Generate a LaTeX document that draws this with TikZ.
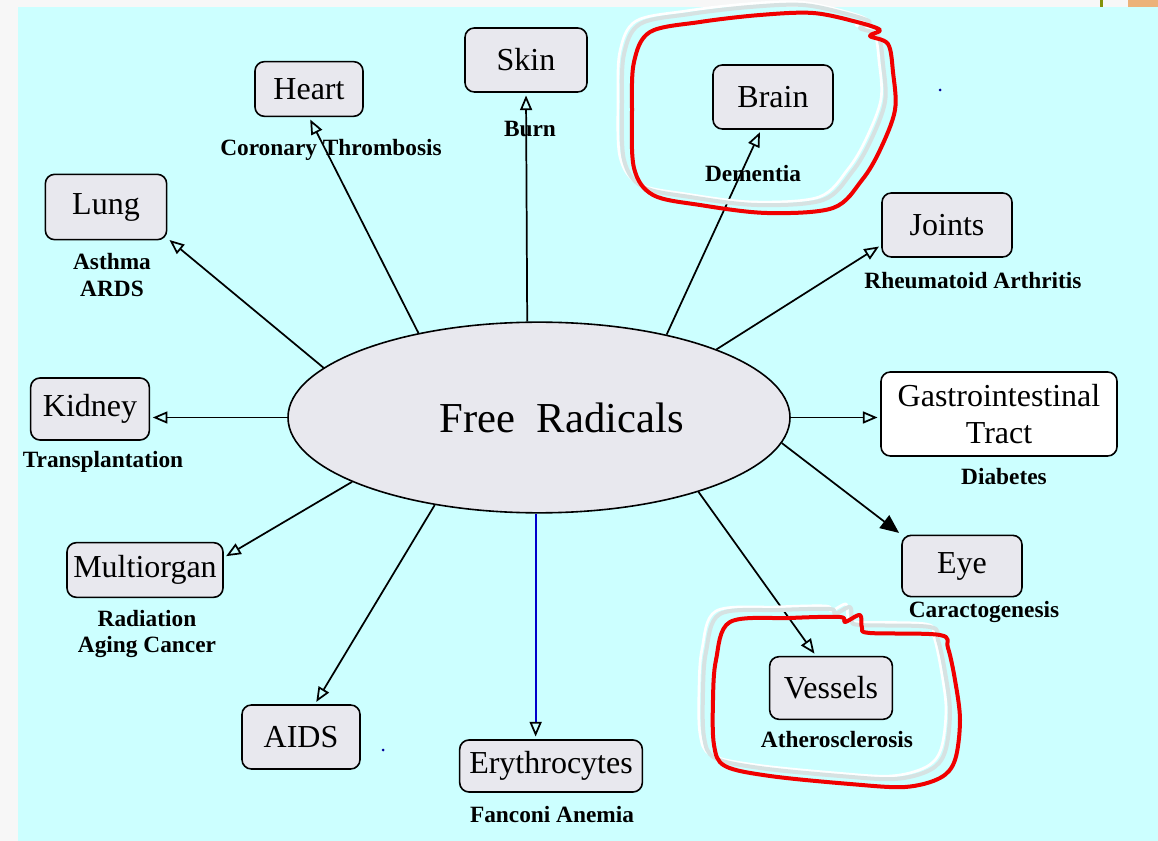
\documentclass[tikz,border=0pt]{standalone}
\usepackage{fontspec}
\setmainfont{Liberation Serif}
\usepackage{tikz}
\usetikzlibrary{arrows.meta,shapes.geometric}
\definecolor{bgcyan}{RGB}{204,255,255}
\definecolor{boxgray}{RGB}{232,232,238}
\definecolor{loopred}{RGB}{240,0,0}
\definecolor{halo}{RGB}{214,226,226}

\begin{document}
\begin{tikzpicture}[x=0.75pt,y=-0.75pt,
	box/.style={draw,line width=1.2pt,rounded corners=7pt,fill=boxgray,inner sep=0pt,align=center,font=\fontsize{24}{28}\selectfont},
	lbl/.style={font=\bfseries\fontsize{17.5}{20}\selectfont,align=center,inner sep=1pt},
	arr/.style={line width=1.3pt,-{Triangle[open,length=11pt,width=9pt,black]},shorten >=2pt}]
	\useasboundingbox (0,0) rectangle (1158,841);
	% page and frame
	\fill[gray!6] (0,0) rectangle (1158,841);
	\fill[bgcyan] (18,7) rectangle (1158,841);
	\fill[olive!80!green] (1100,0) rectangle (1103,7);
	\fill[brown!50!orange!60] (1128,0) rectangle (1158,7);
	\fill[blue!60!black] (940,90) circle (1.5) (383,750) circle (1.5);

	\node[ellipse,draw,line width=1.2pt,fill=boxgray,minimum width=376.5pt,minimum height=143pt,inner sep=0pt,font=\fontsize{32}{36}\selectfont] (fr) at (539,417.5) {\hspace{34pt}Free\enspace Radicals};

	\begin{scope}[every node/.style={box}]
		\node[minimum width=91.5pt,minimum height=48pt] (skin) at (526,60) {Skin};
		\node[minimum width=81pt,minimum height=41pt] (heart) at (309,89) {Heart};
		\node[minimum width=90pt,minimum height=48pt] (brain) at (773,97) {Brain};
		\node[minimum width=91pt,minimum height=49pt] (lung) at (106,207) {Lung};
		\node[minimum width=97.5pt,minimum height=48pt] (joints) at (947,225) {Joints};
		\node[minimum width=89pt,minimum height=46.5pt] (kidney) at (90,409) {Kidney};
		\node[minimum width=177pt,minimum height=63pt,fill=white] (gi) at (999,414) {Gastrointestinal\\Tract};
		\node[minimum width=117pt,minimum height=41pt] (multi) at (145,570) {Multiorgan};
		\node[minimum width=90pt,minimum height=46pt] (eye) at (962,566) {Eye};
		\node[minimum width=88.5pt,minimum height=48pt] (aids) at (301,737) {AIDS};
		\node[minimum width=137pt,minimum height=39pt] (ery) at (551,766) {Erythrocytes};
		\node[minimum width=92pt,minimum height=47pt] (vessels) at (831,688) {Vessels};
	\end{scope}

	\begin{scope}[every node/.style={lbl}]
		\node (heart_l) at (331,150) {Coronary Thrombosis};
		\node (skin_l) at (530,129) {Burn};
		\node[fill=bgcyan] (brain_l) at (753,174) {Dementia};
		\node (lung_l) at (112,275) {Asthma\\ARDS};
		\node (joints_l) at (973,281) {Rheumatoid Arthritis};
		\node (kidney_l) at (103,462) {Transplantation};
		\node (gi_l) at (1004,477) {Diabetes};
		\node (multi_l) at (147,634) {Radiation\\Aging Cancer};
		\node (eye_l) at (984,612) {Caractogenesis};
		\node (vessels_l) at (837,740) {Atherosclerosis};
		\node (ery_l) at (552,815) {Fanconi Anemia};
	\end{scope}

	\begin{scope}[]
		\path [arr] (fr.97) edge (skin.south);
		\path [arr] (fr.145) edge (heart.south);
		\path [arr] (fr.33) edge (brain.-110);
		\path [arr] (fr.167) edge (lung.-27);
		\path [arr] (fr.21) edge (joints.197);
		\path [arr] (fr.west) edge (fr.west -| kidney.east);
		\path [arr] (fr.east) edge (fr.east -| gi.west);
		\path [arr] (fr.199) edge (multi.9);
		\path [arr,-{Triangle[length=14pt,width=12pt]}] (fr.354) edge (eye.north west);
		\path [arr] (fr.335) edge (vessels.115);
		\path [arr,blue!80!black] (fr.268) edge (fr.268 |- ery.north);
		\path [arr] (fr.220) edge (aids.67);
	\end{scope}

	% hand-drawn marks
	\foreach \dx/\dy/\c/\w in {-14/-11/white/2pt,-10/-8/halo/3pt,0/0/loopred/3pt} {
		\draw[\c,line width=\w,line join=round,shift={(\dx,\dy)}] plot[smooth cycle,tension=0.55] coordinates {
			(650,32) (700,22) (760,15) (813,13) (857,22) (880,30) (870,36) (888,44) (893,72) (895,110) (880,150) (862,180) (833,208) (767,213) (700,205) (653,195) (634,168) (632,110) (634,62)};
		\draw[\c,line width=\w,line join=round,shift={(\dx,\dy)}] plot[smooth cycle,tension=0.55] coordinates {
			(730,622) (790,618) (840,617) (845,622) (860,615) (862,628) (870,633) (940,635) (948,648) (955,680) (960,720) (955,760) (940,778) (905,787) (850,784) (770,776) (725,766) (714,745) (713,700) (716,660)};
	}
\end{tikzpicture}
\end{document}
